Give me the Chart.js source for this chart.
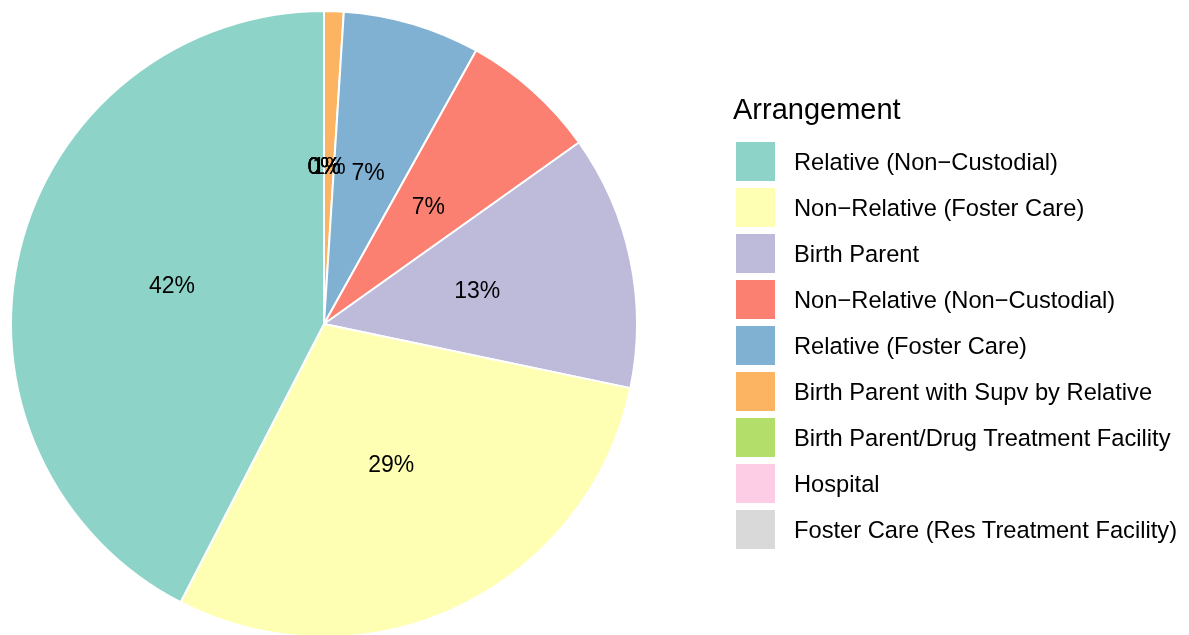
<!DOCTYPE html>
<html>
<head>
<meta charset="utf-8">
<script src="https://cdn.jsdelivr.net/npm/chart.js@4.4.0/dist/chart.umd.min.js"></script>
<style>
    html, body { margin: 0; padding: 0; background: #fff; overflow: hidden; }
    #wrap { position: relative; width: 1189px; height: 650px; }
    #pieChart { position: absolute; left: 0; top: 0; }
    #legend { position: absolute; left: 0; top: 0; font-family: "Liberation Sans", Arial, sans-serif; color: #000; }
    .leg-title { position: absolute; left: 733px; top: 92px; font-size: 29px; white-space: nowrap; line-height: 34px; }
    .leg-box { position: absolute; left: 736px; width: 39px; height: 39px; }
    .leg-text { position: absolute; left: 794px; font-size: 23.7px; white-space: nowrap; line-height: 39px; }
</style>
</head>
<body>
<div id="wrap">
    <canvas id="pieChart" width="1189" height="650"></canvas>
    <div id="legend"></div>
</div>
<script>
// Slices in drawing order (clockwise from 12 o'clock)
const categories = [
    'Foster Care (Res Treatment Facility)',
    'Hospital',
    'Birth Parent/Drug Treatment Facility',
    'Birth Parent with Supv by Relative',
    'Relative (Foster Care)',
    'Non\u2212Relative (Non\u2212Custodial)',
    'Birth Parent',
    'Non\u2212Relative (Foster Care)',
    'Relative (Non\u2212Custodial)'
];
const counts = [0, 0, 0, 1, 7, 7, 13, 29, 42];
const colors = ['#D9D9D9', '#FCCDE5', '#B3DE69', '#FDB462', '#80B1D3', '#FB8072', '#BEBADA', '#FFFFB3', '#8DD3C7'];
const legendTitle = 'Arrangement';

const total = counts.reduce((a, b) => a + b, 0);
const percentLabels = counts.map(v => Math.round(v / total * 100) + '%');

// Percent labels in the middle of each slice
const sliceLabels = {
    id: 'sliceLabels',
    afterDatasetsDraw(chart) {
        const ctx = chart.ctx;
        const meta = chart.getDatasetMeta(0);
        ctx.save();
        ctx.font = '23px "Liberation Sans", Arial, sans-serif';
        ctx.fillStyle = '#000';
        ctx.textAlign = 'center';
        ctx.textBaseline = 'middle';
        meta.data.forEach((arc, i) => {
            const pos = arc.tooltipPosition();
            ctx.fillText(percentLabels[i], pos.x, pos.y);
        });
        ctx.restore();
    }
};

new Chart(document.getElementById('pieChart'), {
    type: 'pie',
    data: {
        labels: categories,
        datasets: [{
            data: counts,
            backgroundColor: colors,
            borderColor: '#ffffff',
            borderWidth: 2
        }]
    },
    options: {
        responsive: false,
        animation: false,
        events: [],
        layout: { padding: { left: 10, top: 10, right: 551, bottom: 12 } },
        plugins: {
            legend: { display: false },
            tooltip: { enabled: false }
        }
    },
    plugins: [sliceLabels]
});

// Legend (reverse of drawing order, like the reference)
const legend = document.getElementById('legend');
const title = document.createElement('div');
title.className = 'leg-title';
title.textContent = legendTitle;
legend.appendChild(title);

categories.slice().reverse().forEach((name, i) => {
    const color = colors[colors.length - 1 - i];
    const top = 141.5 + i * 46;
    const box = document.createElement('div');
    box.className = 'leg-box';
    box.style.top = top + 'px';
    box.style.background = color;
    legend.appendChild(box);
    const txt = document.createElement('div');
    txt.className = 'leg-text';
    txt.style.top = (top + 1) + 'px';
    txt.textContent = name;
    legend.appendChild(txt);
});
</script>
</body>
</html>
